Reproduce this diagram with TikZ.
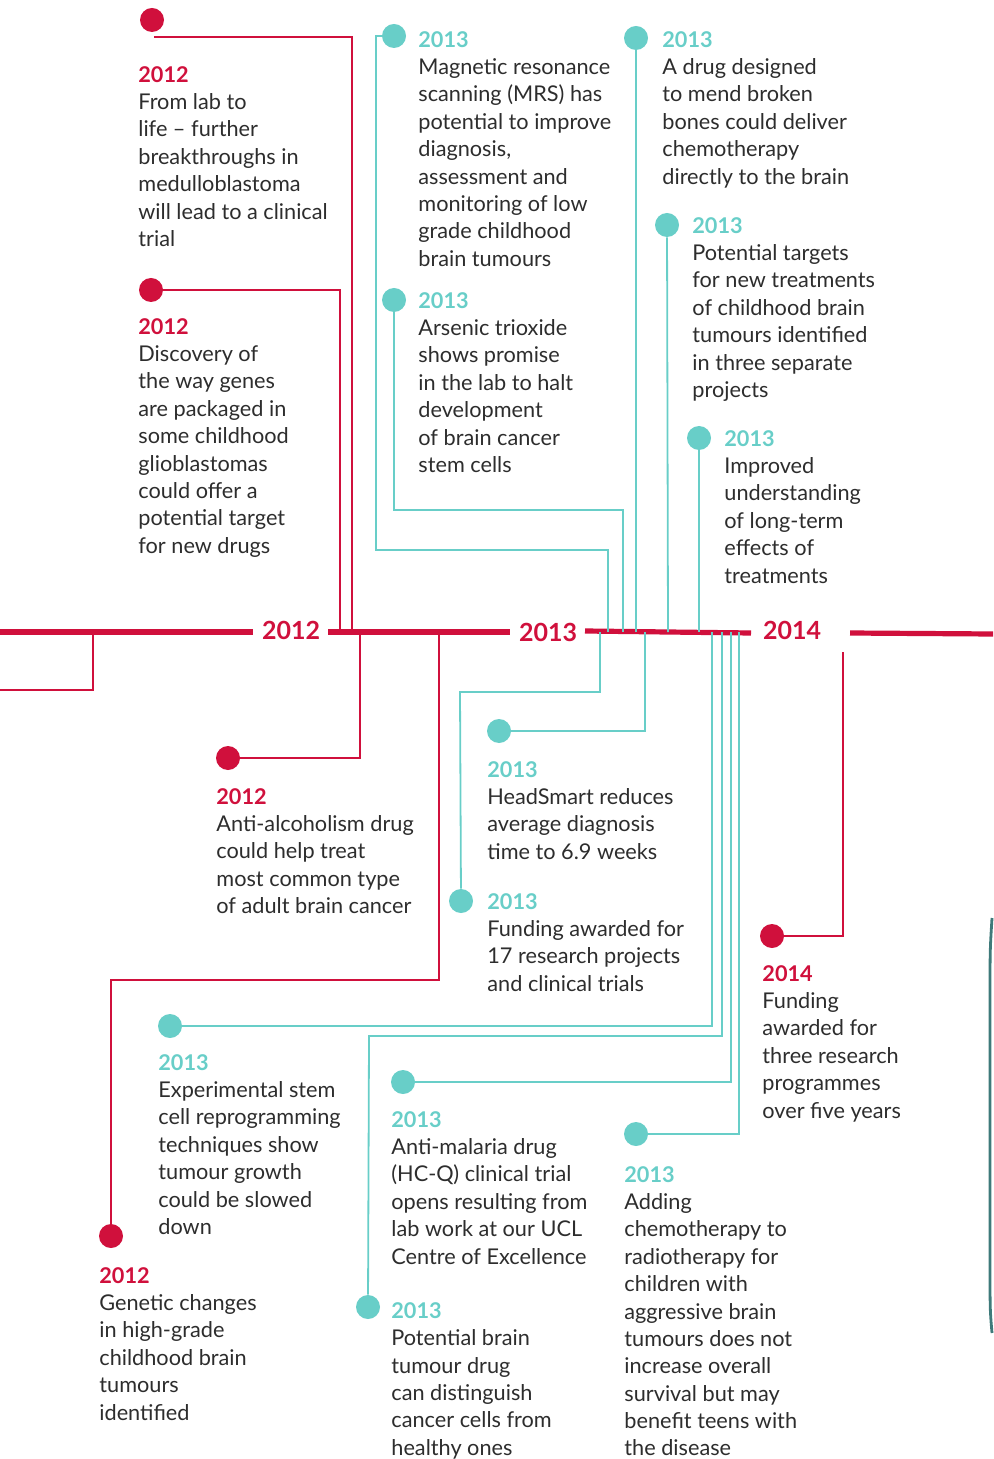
\documentclass[tikz,border=0pt]{standalone}
\usepackage{fontspec}
\setmainfont{Lato}
\usepackage{xcolor}
\usepackage{tikz}
\usetikzlibrary{positioning}
\definecolor{nfred}{RGB}{208,16,60}
\definecolor{nfteal}{RGB}{104,206,200}
\definecolor{nftext}{RGB}{45,45,45}
\definecolor{nfdark}{RGB}{62,122,122}
\tikzset{
red pin/.style = { circle, draw = none, fill = nfred, minimum size = 12pt, inner sep = 0pt },
teal pin/.style = { circle, draw = none, fill = nfteal, minimum size = 12pt, inner sep = 0pt },
red link/.style = { draw = nfred, line width = 0.8pt },
teal link/.style = { draw = nfteal, line width = 0.9pt },
timeline/.style = { draw = nfred, line width = 2.6pt },
year/.style = { text = nfred, font = \fontsize{12.5}{15}\selectfont\bfseries, inner sep = 0pt },
entry/.style = { anchor = north west, inner sep = 0pt, align = left, text = nftext, font = \fontsize{10.85}{13.68}\selectfont },
}
\newcommand{\redyear}[1]{\textcolor{nfred}{\bfseries #1}}
\newcommand{\tealyear}[1]{\textcolor{nfteal}{\bfseries #1}}

\begin{document}
\begin{tikzpicture}[x = 0.5pt, y = -0.5pt]
    \useasboundingbox (0, 0) rectangle (993, 1459);
    % timeline
    \node[year] (y2012) at (291, 630) {2012};
    \node[year] (y2013) at (548, 632) {2013};
    \node[year] (y2014) at (792, 630) {2014};
    \coordinate (tl0) at (0, 632);
    \coordinate (tl1) at (253, 632);
    \coordinate (tl2) at (328, 632);
    \coordinate (tl3) at (510, 632);
    \coordinate (tl4) at (585, 631);
    \coordinate (tl5) at (751, 633);
    \coordinate (tl6) at (850, 633);
    \coordinate (tl7) at (993, 634);
    \draw[timeline] (tl0) -- (tl1);
    \draw[timeline] (tl2) -- (tl3);
    \draw[timeline] (tl4) -- (tl5);
    \draw[timeline] (tl6) -- (tl7);
    % pins
    \node[red pin] (pA) at (152, 20) {};
    \node[red pin] (pB) at (151, 290) {};
    \node[red pin] (pC) at (228, 758) {};
    \node[red pin] (pD) at (111, 1236) {};
    \node[red pin] (pF) at (772, 936) {};
    \node[teal pin] (pG) at (394, 36) {};
    \node[teal pin] (pH) at (394, 300) {};
    \node[teal pin] (pI) at (636, 38) {};
    \node[teal pin] (pJ) at (667, 225) {};
    \node[teal pin] (pK) at (699, 438) {};
    \node[teal pin] (pL) at (461, 901) {};
    \node[teal pin] (pM) at (499, 731) {};
    \node[teal pin] (pN) at (170, 1026) {};
    \node[teal pin] (pO) at (368, 1307) {};
    \node[teal pin] (pP) at (403, 1082) {};
    \node[teal pin] (pQ) at (636, 1134) {};
    % red connectors
    \coordinate (cA) at (154, 37);
    \coordinate (tA) at (352, 632);
    \coordinate (tB) at (340, 632);
    \coordinate (tC) at (360, 632);
    \coordinate (tD) at (439, 632);
    \coordinate (kD) at (111, 980);
    \coordinate (tE) at (93, 632);
    \coordinate (cE) at (0, 690);
    \coordinate (tF) at (843, 652);
    \draw[red link] (cA) -| (tA);
    \draw[red link] (pB) -| (tB);
    \draw[red link] (tC) |- (pC);
    \draw[red link] (tD) |- (kD) -- (pD);
    \draw[red link] (tE) |- (cE);
    \draw[red link] (tF) |- (pF);
    % teal connectors
    \coordinate (kG) at (376, 550);
    \coordinate (tG) at (608, 632);
    \coordinate (kH) at (623, 510);
    \coordinate (tH) at (623, 632);
    \coordinate (tI) at (636, 632);
    \coordinate (tJ) at (668, 632);
    \coordinate (tK) at (699, 632);
    \coordinate (tL) at (600, 632);
    \coordinate (kL) at (460, 692);
    \coordinate (tM) at (645, 632);
    \coordinate (tN) at (712, 632);
    \coordinate (tO) at (722, 632);
    \coordinate (kO) at (369, 1036);
    \coordinate (tP) at (731, 632);
    \coordinate (tQ) at (739, 632);
    \draw[teal link] (pG) -| (kG) -| (tG);
    \draw[teal link] (pH) |- (kH) -- (tH);
    \draw[teal link] (pI) -- (tI);
    \draw[teal link] (pJ) -- (tJ);
    \draw[teal link] (pK) -- (tK);
    \draw[teal link] (tL) |- (kL) -- (pL);
    \draw[teal link] (tM) |- (pM);
    \draw[teal link] (tN) |- (pN);
    \draw[teal link] (tO) |- (kO) -- (pO);
    \draw[teal link] (tP) |- (pP);
    \draw[teal link] (tQ) |- (pQ);
    % entries
    \node[entry] (eA) at (138, 66) {\redyear{2012}\\From lab to\\life – further\\breakthroughs in\\medulloblastoma\\will lead to a clinical\\trial};
    \node[entry] (eB) at (138, 318) {\redyear{2012}\\Discovery of\\the way genes\\are packaged in\\some childhood\\glioblastomas\\could offer a\\potential target\\for new drugs};
    \node[entry] (eG) at (418, 31) {\tealyear{2013}\\Magnetic resonance\\scanning (MRS) has\\potential to improve\\diagnosis,\\assessment and\\monitoring of low\\grade childhood\\brain tumours};
    \node[entry] (eH) at (418, 292) {\tealyear{2013}\\Arsenic trioxide\\shows promise\\in the lab to halt\\development\\of brain cancer\\stem cells};
    \node[entry] (eI) at (662, 31) {\tealyear{2013}\\A drug designed\\to mend broken\\bones could deliver\\chemotherapy\\directly to the brain};
    \node[entry] (eJ) at (692, 217) {\tealyear{2013}\\Potential targets\\for new treatments\\of childhood brain\\tumours identified\\in three separate\\projects};
    \node[entry] (eK) at (724, 430) {\tealyear{2013}\\Improved\\understanding\\of long-term\\effects of\\treatments};
    \node[entry] (eC) at (216, 788) {\redyear{2012}\\Anti-alcoholism drug\\could help treat\\most common type\\of adult brain cancer};
    \node[entry] (eM) at (487, 761) {\tealyear{2013}\\HeadSmart reduces\\average diagnosis\\time to 6.9 weeks};
    \node[entry] (eL) at (487, 893) {\tealyear{2013}\\Funding awarded for\\17 research projects\\and clinical trials};
    \node[entry] (eF) at (762, 965) {\redyear{2014}\\Funding\\awarded for\\three research\\programmes\\over five years};
    \node[entry] (eN) at (158, 1054) {\tealyear{2013}\\Experimental stem\\cell reprogramming\\techniques show\\tumour growth\\could be slowed\\down};
    \node[entry] (eP) at (391, 1111) {\tealyear{2013}\\Anti-malaria drug\\(HC-Q) clinical trial\\opens resulting from\\lab work at our UCL\\Centre of Excellence};
    \node[entry] (eQ) at (624, 1166) {\tealyear{2013}\\Adding\\chemotherapy to\\radiotherapy for\\children with\\aggressive brain\\tumours does not\\increase overall\\survival but may\\benefit teens with\\the disease};
    \node[entry] (eD) at (99, 1267) {\redyear{2012}\\Genetic changes\\in high-grade\\childhood brain\\tumours\\identified};
    \node[entry] (eO) at (391, 1302) {\tealyear{2013}\\Potential brain\\tumour drug\\can distinguish\\cancer cells from\\healthy ones};
    % edge of the next panel
    \draw[draw = nfdark, line width = 1.4pt] (992, 918) .. controls (990, 950) .. (990, 1000) -- (990, 1260) .. controls (990, 1310) .. (992, 1333);
\end{tikzpicture}
\end{document}
